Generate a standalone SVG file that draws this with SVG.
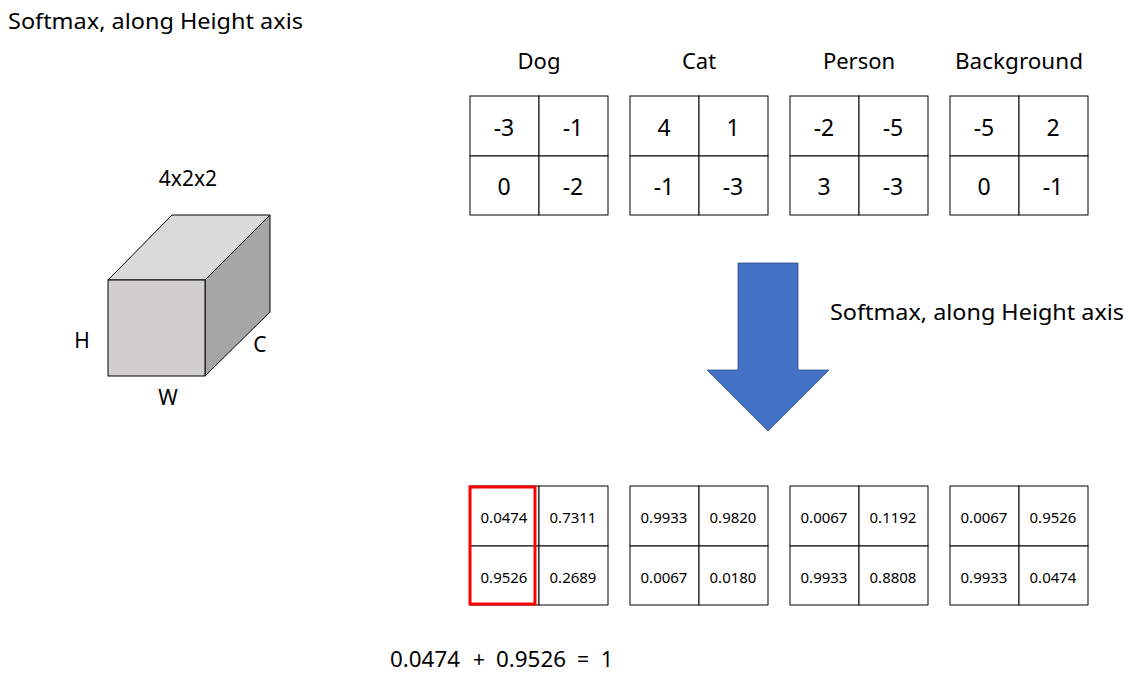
<svg xmlns="http://www.w3.org/2000/svg" width="1141" height="679" viewBox="0 0 1141 679">
<style>
text{font-family:"Noto Sans","Open Sans","Liberation Sans",sans-serif;fill:#000}
.lbl{font-size:21px}
.big{font-size:23px;text-anchor:middle;dominant-baseline:central}
.sm{font-size:15px;text-anchor:middle;dominant-baseline:central}
.cell{fill:#fff;stroke:#000;stroke-width:1}
.hdr{font-size:22px;text-anchor:middle}
</style>
<rect width="1141" height="679" fill="#fff"/>
<text class="lbl" x="8" y="29" textLength="295" lengthAdjust="spacingAndGlyphs">Softmax, along Height axis</text>

<g id="cube">
<text class="lbl" x="188" y="186" text-anchor="middle" font-size="22">4x2x2</text>
<polygon points="108,280 172,215 270,215 205,280" fill="#d9d9d9" stroke="#000" stroke-width="1"/>
<polygon points="205,280 270,215 270,312 205,376" fill="#a6a6a6" stroke="#000" stroke-width="1"/>
<rect x="108" y="280" width="97" height="96" fill="#d0cece" stroke="#000" stroke-width="1"/>
<text class="lbl" x="82" y="348" text-anchor="middle">H</text>
<text class="lbl" x="260" y="352" text-anchor="middle">C</text>
<text class="lbl" x="168" y="405" text-anchor="middle">W</text>
</g>

<g id="dog">
<text class="hdr" x="539" y="69">Dog</text>
<rect class="cell" x="470" y="96" width="69" height="60"/><rect class="cell" x="539" y="96" width="69" height="60"/>
<rect class="cell" x="470" y="156" width="69" height="59"/><rect class="cell" x="539" y="156" width="69" height="59"/>
<text class="big" x="504" y="127">-3</text><text class="big" x="573" y="127">-1</text>
<text class="big" x="504" y="186">0</text><text class="big" x="573" y="186">-2</text>
</g>
<g id="cat">
<text class="hdr" x="699" y="69">Cat</text>
<rect class="cell" x="630" y="96" width="69" height="60"/><rect class="cell" x="699" y="96" width="69" height="60"/>
<rect class="cell" x="630" y="156" width="69" height="59"/><rect class="cell" x="699" y="156" width="69" height="59"/>
<text class="big" x="664" y="127">4</text><text class="big" x="733" y="127">1</text>
<text class="big" x="664" y="186">-1</text><text class="big" x="733" y="186">-3</text>
</g>
<g id="person">
<text class="hdr" x="859" y="69">Person</text>
<rect class="cell" x="790" y="96" width="69" height="60"/><rect class="cell" x="859" y="96" width="69" height="60"/>
<rect class="cell" x="790" y="156" width="69" height="59"/><rect class="cell" x="859" y="156" width="69" height="59"/>
<text class="big" x="824" y="127">-2</text><text class="big" x="893" y="127">-5</text>
<text class="big" x="824" y="186">3</text><text class="big" x="893" y="186">-3</text>
</g>
<g id="background">
<text class="hdr" x="1019" y="69" textLength="128" lengthAdjust="spacingAndGlyphs">Background</text>
<rect class="cell" x="950" y="96" width="69" height="60"/><rect class="cell" x="1019" y="96" width="69" height="60"/>
<rect class="cell" x="950" y="156" width="69" height="59"/><rect class="cell" x="1019" y="156" width="69" height="59"/>
<text class="big" x="984" y="127">-5</text><text class="big" x="1053" y="127">2</text>
<text class="big" x="984" y="186">0</text><text class="big" x="1053" y="186">-1</text>
</g>

<g id="connectors">
<polygon points="738,263 798,263 798,370 829,370 768,431 707,370 738,370" fill="#4472c4" stroke="#2f528f" stroke-width="0.8"/>
</g>
<text class="lbl" x="830" y="320" textLength="294" lengthAdjust="spacingAndGlyphs">Softmax, along Height axis</text>

<g id="dog-out">
<rect class="cell" x="470" y="486" width="69" height="60"/><rect class="cell" x="539" y="486" width="69" height="60"/>
<rect class="cell" x="470" y="546" width="69" height="59"/><rect class="cell" x="539" y="546" width="69" height="59"/>
<text class="sm" x="504" y="517">0.0474</text><text class="sm" x="573" y="517">0.7311</text>
<text class="sm" x="504" y="577">0.9526</text><text class="sm" x="573" y="577">0.2689</text>
<rect x="470" y="487" width="65" height="117" fill="none" stroke="#ff0000" stroke-width="3"/>
</g>
<g id="cat-out">
<rect class="cell" x="630" y="486" width="69" height="60"/><rect class="cell" x="699" y="486" width="69" height="60"/>
<rect class="cell" x="630" y="546" width="69" height="59"/><rect class="cell" x="699" y="546" width="69" height="59"/>
<text class="sm" x="664" y="517">0.9933</text><text class="sm" x="733" y="517">0.9820</text>
<text class="sm" x="664" y="577">0.0067</text><text class="sm" x="733" y="577">0.0180</text>
</g>
<g id="person-out">
<rect class="cell" x="790" y="486" width="69" height="60"/><rect class="cell" x="859" y="486" width="69" height="60"/>
<rect class="cell" x="790" y="546" width="69" height="59"/><rect class="cell" x="859" y="546" width="69" height="59"/>
<text class="sm" x="824" y="517">0.0067</text><text class="sm" x="893" y="517">0.1192</text>
<text class="sm" x="824" y="577">0.9933</text><text class="sm" x="893" y="577">0.8808</text>
</g>
<g id="background-out">
<rect class="cell" x="950" y="486" width="69" height="60"/><rect class="cell" x="1019" y="486" width="69" height="60"/>
<rect class="cell" x="950" y="546" width="69" height="59"/><rect class="cell" x="1019" y="546" width="69" height="59"/>
<text class="sm" x="984" y="517">0.0067</text><text class="sm" x="1053" y="517">0.9526</text>
<text class="sm" x="984" y="577">0.9933</text><text class="sm" x="1053" y="577">0.0474</text>
</g>

<text class="lbl" y="667" font-size="22"><tspan x="390" textLength="70" lengthAdjust="spacingAndGlyphs">0.0474</tspan> <tspan x="473">+</tspan> <tspan x="496" textLength="70" lengthAdjust="spacingAndGlyphs">0.9526</tspan> <tspan x="577">=</tspan> <tspan x="601">1</tspan></text>
</svg>
